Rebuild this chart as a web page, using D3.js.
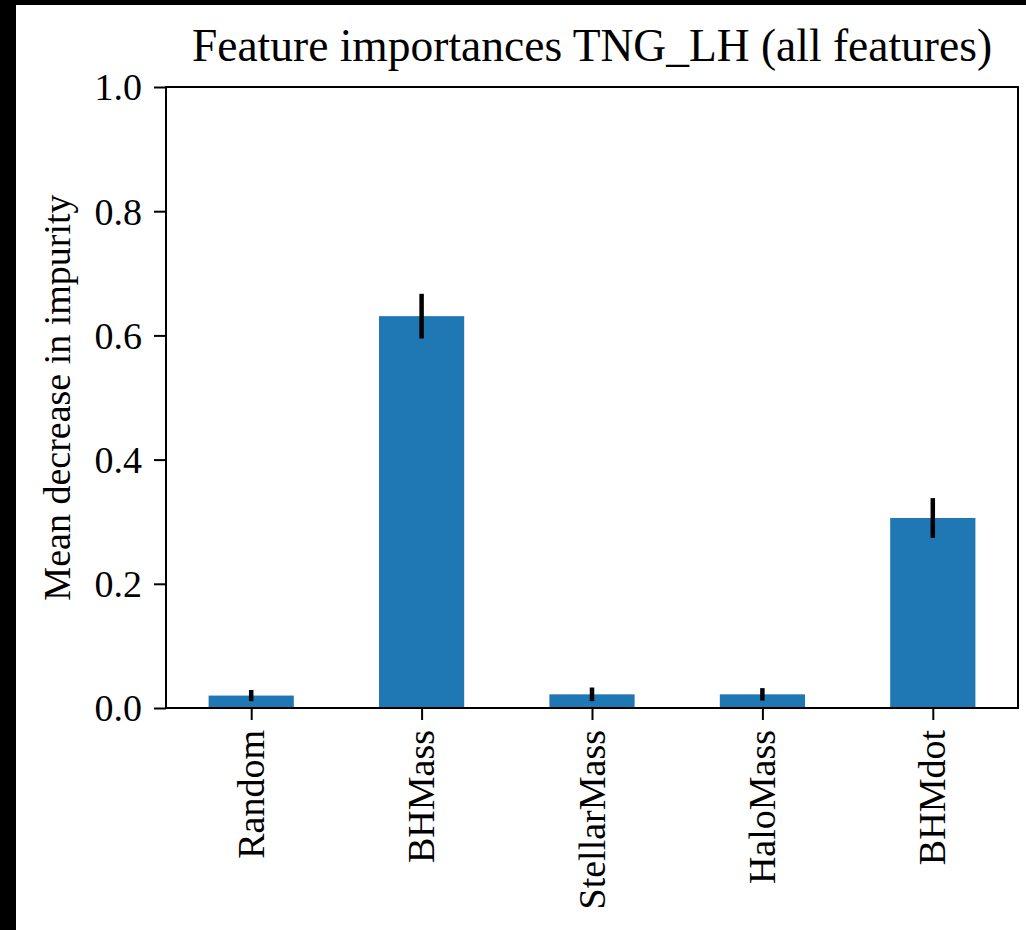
<!DOCTYPE html>
<html>
<head>
<meta charset="utf-8">
<script src="https://cdn.jsdelivr.net/npm/d3@7"></script>
<style>
    html, body {margin: 0; padding: 0; background: #000;}
    svg {display: block;}
    text {font-family: "Liberation Serif", "Times New Roman", serif; fill: #000;}
</style>
</head>
<body>
<svg id="chart"></svg>
<script>
// data
const FEATURES = ['Random', 'BHMass', 'StellarMass', 'HaloMass', 'BHMdot'];
const IMPORTANCES = [0.020, 0.631, 0.022, 0.022, 0.306];
const STD_ERRORS = [0.009, 0.036, 0.011, 0.010, 0.032];
const Y_TICKS = [0.0, 0.2, 0.4, 0.6, 0.8, 1.0];

const WIDTH = 1026;
const HEIGHT = 930;
const PLOT = {left: 166, right: 1018, top: 87, bottom: 708};

const svg = d3.select('#chart')
    .attr('width', WIDTH)
    .attr('height', HEIGHT);

// white page with the black border strip on the top and left
svg.append('rect')
    .attr('x', 16).attr('y', 5)
    .attr('width', WIDTH - 16).attr('height', HEIGHT - 5)
    .attr('fill', '#fff');

/* ************** SCALES ************** */
const x = d3.scaleLinear().domain([-0.5, FEATURES.length - 0.5]).range([PLOT.left, PLOT.right]);
const y = d3.scaleLinear().domain([0, 1]).range([PLOT.bottom, PLOT.top]);
const barWidth = x(0.25) - x(-0.25);

const chart = svg.append('g');

/* ************** BARS ************** */
chart.selectAll('.bar')
    .data(FEATURES)
    .enter().append('rect')
    .classed('bar', true)
    .attr('x', (d, i) => x(i) - barWidth / 2)
    .attr('y', (d, i) => y(IMPORTANCES[i]))
    .attr('width', barWidth)
    .attr('height', (d, i) => y(0) - y(IMPORTANCES[i]))
    .attr('fill', '#1f77b4');

// error bars
chart.selectAll('.err')
    .data(FEATURES)
    .enter().append('line')
    .classed('err', true)
    .attr('x1', (d, i) => x(i))
    .attr('x2', (d, i) => x(i))
    .attr('y1', (d, i) => y(IMPORTANCES[i] - STD_ERRORS[i]))
    .attr('y2', (d, i) => y(IMPORTANCES[i] + STD_ERRORS[i]))
    .attr('stroke', '#000')
    .attr('stroke-width', 4.5);

/* ************** AXES ************** */
const yAxis = chart.append('g')
    .attr('transform', `translate(${PLOT.left},0)`)
    .call(d3.axisLeft(y).tickValues(Y_TICKS).tickFormat(d3.format('.1f')).tickSize(12).tickPadding(12).tickSizeOuter(0));

const xAxis = chart.append('g')
    .attr('transform', `translate(0,${PLOT.bottom})`)
    .call(d3.axisBottom(x).tickValues(d3.range(FEATURES.length)).tickFormat(i => FEATURES[i]).tickSize(12).tickSizeOuter(0));

[xAxis, yAxis].forEach(ax => {
    ax.select('.domain').remove();
    ax.selectAll('line').attr('stroke', '#000').attr('stroke-width', 2);
    ax.selectAll('text').style('font-size', '38px').attr('fill', '#000');
});
yAxis.selectAll('text').attr('dy', '0.34em');

xAxis.selectAll('text')
    .attr('text-anchor', 'end')
    .attr('transform', 'rotate(-90)')
    .attr('x', -22)
    .attr('y', 0)
    .attr('dy', '0.32em');

// frame around the plot
chart.append('rect')
    .attr('x', PLOT.left).attr('y', PLOT.top)
    .attr('width', PLOT.right - PLOT.left)
    .attr('height', PLOT.bottom - PLOT.top)
    .attr('fill', 'none')
    .attr('stroke', '#000')
    .attr('stroke-width', 2);

/* ************** LABELS ************** */
svg.append('text')
    .attr('x', (PLOT.left + PLOT.right) / 2)
    .attr('y', 61)
    .attr('text-anchor', 'middle')
    .style('font-size', '45.5px')
    .text('Feature importances TNG_LH (all features)');

svg.append('text')
    .attr('transform', `translate(70,${(PLOT.top + PLOT.bottom) / 2}) rotate(-90)`)
    .attr('text-anchor', 'middle')
    .style('font-size', '38px')
    .text('Mean decrease in impurity');
</script>
</body>
</html>
